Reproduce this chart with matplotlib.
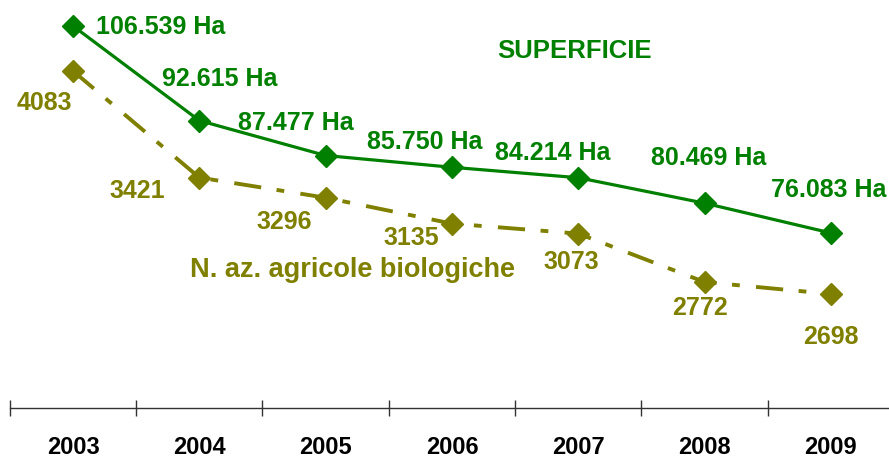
import matplotlib
matplotlib.use('Agg')
import matplotlib.pyplot as plt
from matplotlib.ticker import FixedLocator

plt.rcParams['font.family'] = ['Liberation Sans', 'DejaVu Sans']
plt.rcParams['font.weight'] = 'bold'

years = ['2003', '2004', '2005', '2006', '2007', '2008', '2009']
superficie = [106.539, 92.615, 87.477, 85.750, 84.214, 80.469, 76.083]
aziende = [4083, 3421, 3296, 3135, 3073, 2772, 2698]

green = '#008000'
olive = '#808000'

# label offsets from each marker, in pixels
sup_off = [(88, -1), (20, 42), (-30, 33), (-27, 25), (-26, 25), (4, 45), (-2, 43)]
az_off = [(-29, -32), (-62, -13), (-41, -24), (-41, -14), (-7, -28), (-5, -26), (0, -43)]

fig = plt.figure(figsize=(8.89, 4.57), dpi=100)
ax = fig.add_axes([0.0111, 0.1066, 0.9946, 0.8934])
ax2 = ax.twinx()

x = list(range(len(years)))

ax2.plot(x, aziende, color=olive, lw=2.8, dashes=[7, 4, 2, 4.2],
         marker='D', ms=11.5, mec=olive, mfc=olive, zorder=2)
ax.plot(x, superficie, color=green, lw=2.3, marker='D', ms=11.5,
        mec=green, mfc=green, zorder=3)
ax.set_zorder(ax2.get_zorder() + 1)
ax.patch.set_visible(False)

ax.set_xlim(-0.5, 6.5)
ax.set_ylim(50.29, 110.36)
ax2.set_ylim(1988, 4524)

for i, v in enumerate(superficie):
    label = '%.3f Ha' % v
    ax.annotate(label, (i, v), xytext=sup_off[i], textcoords='offset pixels',
                ha='center', va='center', color=green, fontsize=18,
                fontweight='bold')

for i, v in enumerate(aziende):
    ax2.annotate(str(v), (i, v), xytext=az_off[i], textcoords='offset pixels',
                 ha='center', va='center', color=olive, fontsize=18,
                 fontweight='bold')

fig.text(575 / 889, 1 - 51 / 457, 'SUPERFICIE', ha='center', va='center',
         color=green, fontsize=18.5, fontweight='bold')
fig.text(352 / 889, 1 - 270 / 457, 'N. az. agricole biologiche', ha='center',
         va='center', color=olive, fontsize=19.5, fontweight='bold')

for a in (ax, ax2):
    for s in ('top', 'left', 'right'):
        a.spines[s].set_visible(False)
    a.set_yticks([])
ax2.spines['bottom'].set_visible(False)
ax.spines['bottom'].set_color('#333333')
ax.spines['bottom'].set_linewidth(1.0)

ax.set_xticks(x)
ax.set_xticklabels(years, fontsize=17, fontweight='bold')
ax.tick_params(axis='x', which='major', length=0, pad=20)
ax.xaxis.set_minor_locator(FixedLocator([i - 0.5 for i in range(len(years) + 1)]))
ax.tick_params(axis='x', which='minor', direction='inout', length=11,
               width=1.0, color='#333333')

fig.savefig('out.png', dpi=100)
